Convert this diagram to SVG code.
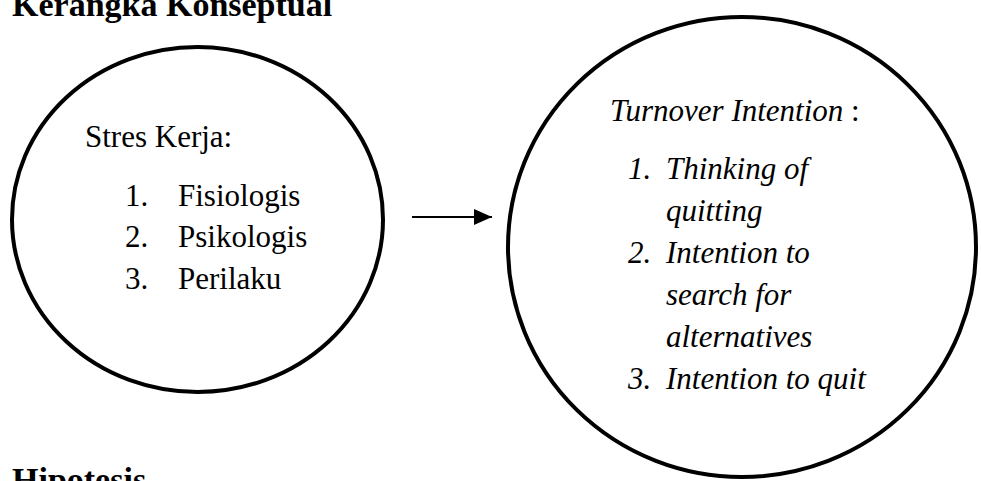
<svg xmlns="http://www.w3.org/2000/svg" width="981" height="481" viewBox="0 0 981 481">
  <style>
    .heading { font-family: "Liberation Serif", "Times New Roman", serif; font-size: 34px; font-weight: bold; fill: #000; }
    .txt { font-family: "Liberation Serif", "Times New Roman", serif; font-size: 31px; fill: #000; }
    .it { font-style: italic; }
    .node { fill: #fff; stroke: #000; stroke-width: 4; }
    .conn { stroke: #000; stroke-width: 2; fill: none; }
  </style>
  <defs>
    <marker id="arrow" markerWidth="9" markerHeight="8" refX="9" refY="4" orient="auto" markerUnits="strokeWidth">
      <path d="M0,0 L9,4 L0,8 Z" fill="#000"/>
    </marker>
  </defs>
  <rect width="981" height="481" fill="#fff"/>
  <text class="heading" x="12" y="16">Kerangka Konseptual</text>
  <text class="heading" x="12" y="491">Hipotesis</text>

  <g id="node-stres-kerja">
    <ellipse class="node" cx="197.5" cy="219.5" rx="185.5" ry="172.5"/>
    <text class="txt" x="85" y="147">Stres Kerja:</text>
    <text class="txt" x="125" y="206">1.</text>
    <text class="txt" x="178" y="206">Fisiologis</text>
    <text class="txt" x="125" y="247">2.</text>
    <text class="txt" x="178" y="247">Psikologis</text>
    <text class="txt" x="125" y="289">3.</text>
    <text class="txt" x="178" y="289">Perilaku</text>
  </g>

  <g id="node-turnover-intention">
    <ellipse class="node" cx="742" cy="247" rx="234" ry="230"/>
    <text class="txt it" x="610" y="121">Turnover Intention<tspan font-style="normal"> :</tspan></text>
    <text class="txt it" x="628" y="179">1.</text>
    <text class="txt it" x="666" y="179">Thinking of</text>
    <text class="txt it" x="666" y="221">quitting</text>
    <text class="txt it" x="628" y="263">2.</text>
    <text class="txt it" x="666" y="263">Intention to</text>
    <text class="txt it" x="666" y="305">search for</text>
    <text class="txt it" x="666" y="347">alternatives</text>
    <text class="txt it" x="628" y="389">3.</text>
    <text class="txt it" x="666" y="389">Intention to quit</text>
  </g>

  <g id="connectors">
    <line class="conn" x1="412" y1="217" x2="492" y2="217" marker-end="url(#arrow)"/>
  </g>
</svg>
